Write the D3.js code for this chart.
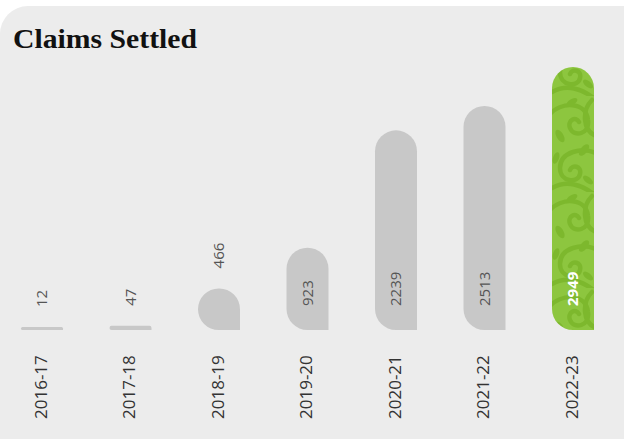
<!DOCTYPE html>
<meta charset="utf-8">
<script src="https://d3js.org/d3.v7.min.js"></script>
<style>
  body { margin: 0; background: #fff; }
</style>
<div id="chart"></div>
<script>
  // data
  var years = ["2016-17", "2017-18", "2018-19", "2019-20", "2020-21", "2021-22", "2022-23"];
  var claims = [12, 47, 466, 923, 2239, 2513, 2949];
  var highlightYear = "2022-23";

  var W = 624, H = 439;
  var base = 330, barW = 42;

  var svg = d3.select("#chart").append("svg")
    .attr("width", W).attr("height", H);

  // card background
  svg.append("rect")
    .attr("x", 0).attr("y", 6)
    .attr("width", W + 40).attr("height", H + 40)
    .attr("rx", 28)
    .attr("fill", "#ececec");

  // green swirl pattern for the highlighted bar
  var defs = svg.append("defs");
  var pat = defs.append("pattern")
    .attr("id", "swirl")
    .attr("patternUnits", "userSpaceOnUse")
    .attr("x", 552).attr("y", 0)
    .attr("width", 42).attr("height", 96);
  pat.append("rect").attr("width", 42).attr("height", 96).attr("fill", "#8dc63f");
  var sw = pat.append("g").attr("fill", "none").attr("stroke", "#7db82d")
    .attr("stroke-width", 4.5).attr("stroke-linecap", "round");
  sw.append("path").attr("d", "M-4,20 C10,4 34,6 36,24 C38,38 22,42 18,32 C15,24 24,20 27,26");
  sw.append("path").attr("d", "M46,58 C30,50 8,56 8,72 C8,86 26,88 28,78 C30,70 20,68 18,74");
  sw.append("path").attr("d", "M0,92 C14,84 30,88 44,100");
  sw.append("path").attr("d", "M40,4 C30,14 30,34 44,40");
  var lv = pat.append("g").attr("fill", "#7db82d");
  lv.append("ellipse").attr("cx", 8).attr("cy", 40).attr("rx", 3.5).attr("ry", 7).attr("transform", "rotate(-30,8,40)");
  lv.append("ellipse").attr("cx", 32).attr("cy", 54).attr("rx", 3.5).attr("ry", 7).attr("transform", "rotate(40,32,54)");
  lv.append("ellipse").attr("cx", 20).attr("cy", 6).attr("rx", 3).attr("ry", 6).attr("transform", "rotate(60,20,6)");
  lv.append("ellipse").attr("cx", 36).attr("cy", 84).attr("rx", 3).attr("ry", 6).attr("transform", "rotate(-50,36,84)");
  lv.append("ellipse").attr("cx", 4).attr("cy", 62).attr("rx", 3).attr("ry", 6).attr("transform", "rotate(20,4,62)");

  // title
  svg.append("text")
    .attr("x", 13).attr("y", 48)
    .attr("font-family", "Liberation Serif, serif")
    .attr("font-weight", "bold")
    .attr("font-size", 28)
    .attr("textLength", 184)
    .attr("lengthAdjust", "spacingAndGlyphs")
    .attr("fill", "#111")
    .text("Claims Settled");

  // scales
  var x = d3.scalePoint().domain(years).range([42, 573]);
  var y = d3.scaleLinear().domain([0, d3.max(claims)]).range([base, 67]);

  var data = years.map(function (d, i) { return { year: d, value: claims[i] }; });

  // bar with rounded top corners and rounded bottom-left
  function barPath(cx, top) {
    var h = base - top;
    var r = Math.min(barW / 2, h / 2);
    var x0 = cx - barW / 2, x1 = cx + barW / 2;
    return "M" + x1 + "," + base +
      "L" + (x0 + r) + "," + base +
      "A" + r + "," + r + " 0 0 1 " + x0 + "," + (base - r) +
      "L" + x0 + "," + (top + r) +
      "A" + r + "," + r + " 0 0 1 " + (x0 + r) + "," + top +
      "L" + (x1 - r) + "," + top +
      "A" + r + "," + r + " 0 0 1 " + x1 + "," + (top + r) +
      "Z";
  }

  function barTop(d) { return Math.min(y(d.value), base - 3); }

  svg.selectAll(".bar").data(data).enter().append("path")
    .attr("class", "bar")
    .attr("d", function (d) { return barPath(x(d.year), barTop(d)); })
    .attr("fill", function (d) { return d.year === highlightYear ? "url(#swirl)" : "#c8c8c8"; });

  // value labels
  svg.selectAll(".val").data(data).enter().append("text")
    .attr("class", "val")
    .attr("transform", function (d) {
      var inside = base - barTop(d) > 60;
      var ty = inside ? base - 24 : barTop(d) - 20;
      return "translate(" + x(d.year) + "," + ty + ") rotate(-90)";
    })
    .attr("dy", "0.35em")
    .attr("font-family", "Open Sans, sans-serif")
    .attr("font-size", 15)
    .attr("font-weight", function (d) { return d.year === highlightYear ? "bold" : "normal"; })
    .attr("fill", function (d) { return d.year === highlightYear ? "#fff" : "#555"; })
    .text(function (d) { return d.value; });

  // year labels
  svg.selectAll(".yr").data(data).enter().append("text")
    .attr("class", "yr")
    .attr("transform", function (d) { return "translate(" + (x(d.year) - 1) + ",419) rotate(-90)"; })
    .attr("dy", "0.35em")
    .attr("font-family", "Open Sans, sans-serif")
    .attr("font-size", 17)
    .attr("fill", "#333")
    .text(function (d) { return d.year; });
</script>
